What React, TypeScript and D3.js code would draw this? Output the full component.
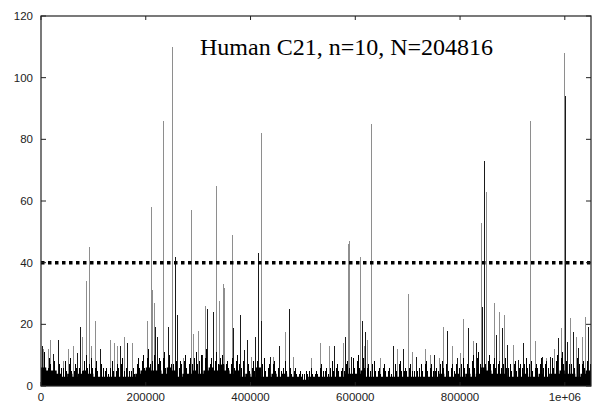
import React from "react";
import * as d3 from "d3";

// ---- data ----
const xTicks = [0, 200000, 400000, 600000, 800000, 1000000];
const xTickLabels = ["0", "200000", "400000", "600000", "800000", "1e+06"];
const yTicks = [0, 20, 40, 60, 80, 100, 120];
const threshold = 40;
const title = "Human C21, n=10, N=204816";

// dense background: height of the solid black mass per 10 kb bin
const binSize = 10000;
const baseLevel = [
  6, 5, 5, 4, 3, 4, 3, 4, 5, 4, 3, 3, 3, 3, 3, 3, 3, 3, 4, 5,
  6, 5, 5, 4, 6, 5, 3, 4, 4, 5, 4, 5, 6, 5, 7, 5, 4, 5, 3, 4,
  3, 6, 3, 3, 4, 3, 4, 3, 3, 3, 2, 3, 3, 3, 3, 3, 3, 3, 4, 4,
  4, 5, 3, 3, 3, 3, 3, 3, 3, 3, 3, 3, 3, 3, 3, 3, 4, 3, 3, 4,
  3, 4, 3, 4, 6, 5, 4, 4, 4, 3, 3, 3, 4, 3, 3, 4, 3, 4, 4, 5,
  4, 4, 3, 4, 5, 4,
];
// small black spikes in each bin (mid, first quarter, third quarter)
const binPeak = [
  11, 9, 8, 7, 8, 9, 7, 8, 10, 9, 8, 7, 6, 8, 7, 9, 8, 6, 9, 10,
  12, 10, 9, 11, 10, 9, 8, 10, 9, 11, 10, 12, 9, 11, 10, 8, 9, 10, 8, 7,
  8, 10, 9, 7, 8, 7, 8, 6, 6, 5, 5, 6, 5, 7, 6, 8, 7, 6, 8, 9,
  10, 9, 7, 8, 6, 7, 6, 7, 8, 6, 7, 6, 7, 8, 7, 6, 8, 9, 7, 8,
  9, 8, 10, 11, 12, 10, 9, 8, 9, 7, 8, 7, 9, 8, 7, 9, 8, 9, 10, 11,
  10, 9, 11, 8, 10, 9,
];
const binPeakA = [
  8, 6, 7, 5, 6, 7, 5, 6, 8, 7, 6, 5, 5, 6, 5, 7, 6, 5, 7, 8,
  9, 8, 7, 9, 8, 7, 6, 8, 7, 9, 8, 9, 7, 8, 9, 7, 7, 8, 6, 6,
  6, 8, 7, 6, 7, 6, 6, 5, 5, 4, 4, 5, 4, 6, 5, 6, 6, 5, 7, 7,
  8, 7, 6, 7, 5, 6, 5, 6, 7, 5, 6, 5, 6, 7, 6, 5, 7, 7, 6, 7,
  7, 7, 8, 9, 9, 8, 7, 7, 7, 6, 7, 6, 7, 7, 6, 7, 7, 7, 8, 9,
  8, 7, 9, 7, 8, 7,
];
const binPeakB = [
  6, 7, 5, 6, 5, 5, 6, 5, 6, 6, 5, 6, 4, 5, 6, 5, 5, 4, 6, 6,
  7, 7, 8, 6, 7, 8, 7, 6, 7, 7, 7, 8, 8, 7, 7, 6, 6, 7, 5, 5,
  5, 6, 5, 6, 5, 5, 5, 4, 4, 4, 4, 4, 4, 5, 4, 5, 5, 5, 6, 6,
  6, 6, 5, 5, 4, 5, 4, 5, 5, 5, 5, 5, 5, 5, 5, 5, 6, 5, 5, 6,
  6, 6, 6, 7, 7, 7, 6, 6, 6, 5, 5, 6, 6, 5, 6, 6, 6, 6, 7, 7,
  7, 6, 7, 6, 7, 6,
];

// grey spikes (position in bp, value)
const greyPos = [
  86500, 92200, 210000, 233500, 249500, 285800, 333500, 365500, 420000, 586000,
  588500, 609000, 630500, 700000, 839300, 850000, 934000, 998700,
  4400, 12800, 17200, 41400, 51000, 61600, 78800, 94800, 104000, 132600,
  139700, 144500, 157500, 173100, 201700, 212800, 215700, 271000, 289500, 300300,
  313100, 340400, 346900, 350000, 400900, 443500, 465800, 481600, 514800, 532600,
  550400, 577100, 616000, 622200, 647000, 680500, 708800, 733000, 742600, 759800,
  768300, 784000, 799600, 805900, 823900, 855500, 865100, 874000, 883900, 901600,
  944000, 963800, 979600, 991800, 1009800, 1021300, 1032100, 1038300,
];
const greyVal = [
  34, 45, 58, 86, 110, 57, 65, 49, 82, 46,
  47, 42, 85, 30, 53, 63, 86, 108,
  12, 12, 15, 8, 12, 13, 16, 13, 21, 15,
  14, 13, 16, 14, 21, 31, 27, 9, 17, 18,
  26, 27.5, 33, 31.7, 9.5, 9.5, 17.6, 9.5, 9, 14,
  13, 14, 13, 15, 9, 12, 11, 12, 10, 9,
  19, 13, 10.8, 21.6, 14.5, 9.5, 27, 24, 23, 13.3,
  14.5, 9, 12, 18.7, 22, 16, 16, 22.5,
];

// black spikes (position in bp, value)
const blackPos = [
  255800, 415200, 846200, 999500,
  1300, 22900, 33000, 69300, 75000, 112000, 150800, 165100, 218500, 221400,
  243000, 260200, 306700, 317500, 327800, 367000, 379900, 387500, 392700, 407900,
  420000, 437200, 454900, 473400, 559300, 580900, 591800, 612200, 619100, 672500,
  691600, 716000, 750800, 774400, 793500, 814300, 830000, 841000, 868500, 879200,
  889000, 910000, 920400, 955500, 971400, 987400, 1004700, 1016200, 1025700, 1044000,
];
const blackVal = [
  42, 43, 73, 94,
  13, 10.5, 15, 10.6, 19, 12, 13, 14, 19, 16,
  19, 23, 10, 25, 24, 18.7, 23, 11.7, 15, 16,
  21, 9.5, 13, 25, 13, 16, 9.5, 21, 17.6, 13,
  12, 9.5, 10, 18, 9, 18.7, 14, 25.7, 16.5, 18.7,
  13.3, 8.4, 14, 9.5, 9.5, 15.5, 14.3, 17.6, 12.3, 19,
];

export default function App() {
  const W = 592, H = 403;
  const left = 41, right = 591, top = 16, bottom = 386;
  const x = d3.scaleLinear().domain([0, 1050000]).range([left, right]);
  const y = d3.scaleLinear().domain([0, 120]).range([bottom, top]);

  const baseData = baseLevel.map((v, i) => ({ p: i * binSize, v }));
  baseData.push({ p: 1050000, v: baseLevel[baseLevel.length - 1] });
  const area = d3
    .area<{ p: number; v: number }>()
    .x((d) => x(d.p))
    .y0(y(0))
    .y1((d) => y(d.v))
    .curve(d3.curveStepAfter);

  const px = (v: number) => Math.round(x(v)) + 0.5;
  const fontSans = "'Liberation Sans', Arial, sans-serif";
  const axisColor = "#222";

  const smallSpikes = (vals: number[], offset: number, key: string) =>
    vals.map((v, i) => (
      <line
        key={key + i}
        x1={px(i * binSize + offset)}
        x2={px(i * binSize + offset)}
        y1={bottom}
        y2={y(v)}
        stroke="#000"
        strokeWidth={1}
        shapeRendering="crispEdges"
      />
    ));

  return (
    <svg
      width={W}
      height={H}
      style={{ position: "absolute", left: 0, top: 0, background: "#fff" }}
    >
      <rect x={0} y={0} width={W} height={H} fill="#fff" />
      <clipPath id="plotclip">
        <rect x={left} y={top} width={right - left} height={bottom - top} />
      </clipPath>
      <g clipPath="url(#plotclip)">
        {greyPos.map((p, i) => (
          <line
            key={"g" + i}
            x1={px(p)}
            x2={px(p)}
            y1={bottom}
            y2={y(greyVal[i])}
            stroke="#8e8e8e"
            strokeWidth={1}
            shapeRendering="crispEdges"
          />
        ))}
        {smallSpikes(binPeakA, binSize * 0.25, "a")}
        {smallSpikes(binPeak, binSize * 0.5, "m")}
        {smallSpikes(binPeakB, binSize * 0.75, "b")}
        {blackPos.map((p, i) => (
          <line
            key={"k" + i}
            x1={px(p)}
            x2={px(p)}
            y1={bottom}
            y2={y(blackVal[i])}
            stroke="#1a1a1a"
            strokeWidth={1}
            shapeRendering="crispEdges"
          />
        ))}
        <path d={area(baseData) || ""} fill="#000" />
      </g>

      {/* threshold */}
      <line
        x1={left}
        x2={right}
        y1={y(threshold)}
        y2={y(threshold)}
        stroke="#000"
        strokeWidth={3.5}
        strokeDasharray="3.5,3.5"
      />

      {/* frame */}
      <rect
        x={left}
        y={top}
        width={right - left}
        height={bottom - top}
        fill="none"
        stroke={axisColor}
        strokeWidth={1.2}
      />

      {/* y ticks */}
      {yTicks.map((t) => (
        <g key={"y" + t}>
          <line x1={left} x2={left + 5} y1={y(t)} y2={y(t)} stroke={axisColor} />
          <line x1={right - 5} x2={right} y1={y(t)} y2={y(t)} stroke={axisColor} />
          <text
            x={33}
            y={y(t)}
            dy="0.36em"
            textAnchor="end"
            fontFamily={fontSans}
            fontSize={11.5}
            fill="#222"
          >
            {t}
          </text>
        </g>
      ))}

      {/* x ticks */}
      {xTicks.map((t, i) => (
        <g key={"x" + t}>
          <line x1={x(t)} x2={x(t)} y1={top} y2={top + 4} stroke={axisColor} />
          <line x1={x(t)} x2={x(t)} y1={bottom} y2={bottom - 4} stroke={axisColor} />
          <text
            x={x(t)}
            y={401}
            textAnchor="middle"
            fontFamily={fontSans}
            fontSize={11.5}
            fill="#222"
          >
            {xTickLabels[i]}
          </text>
        </g>
      ))}

      <text
        x={200}
        y={55}
        fontFamily="'Liberation Serif', 'Times New Roman', serif"
        fontSize={24}
        fill="#000"
      >
        {title}
      </text>
    </svg>
  );
}
